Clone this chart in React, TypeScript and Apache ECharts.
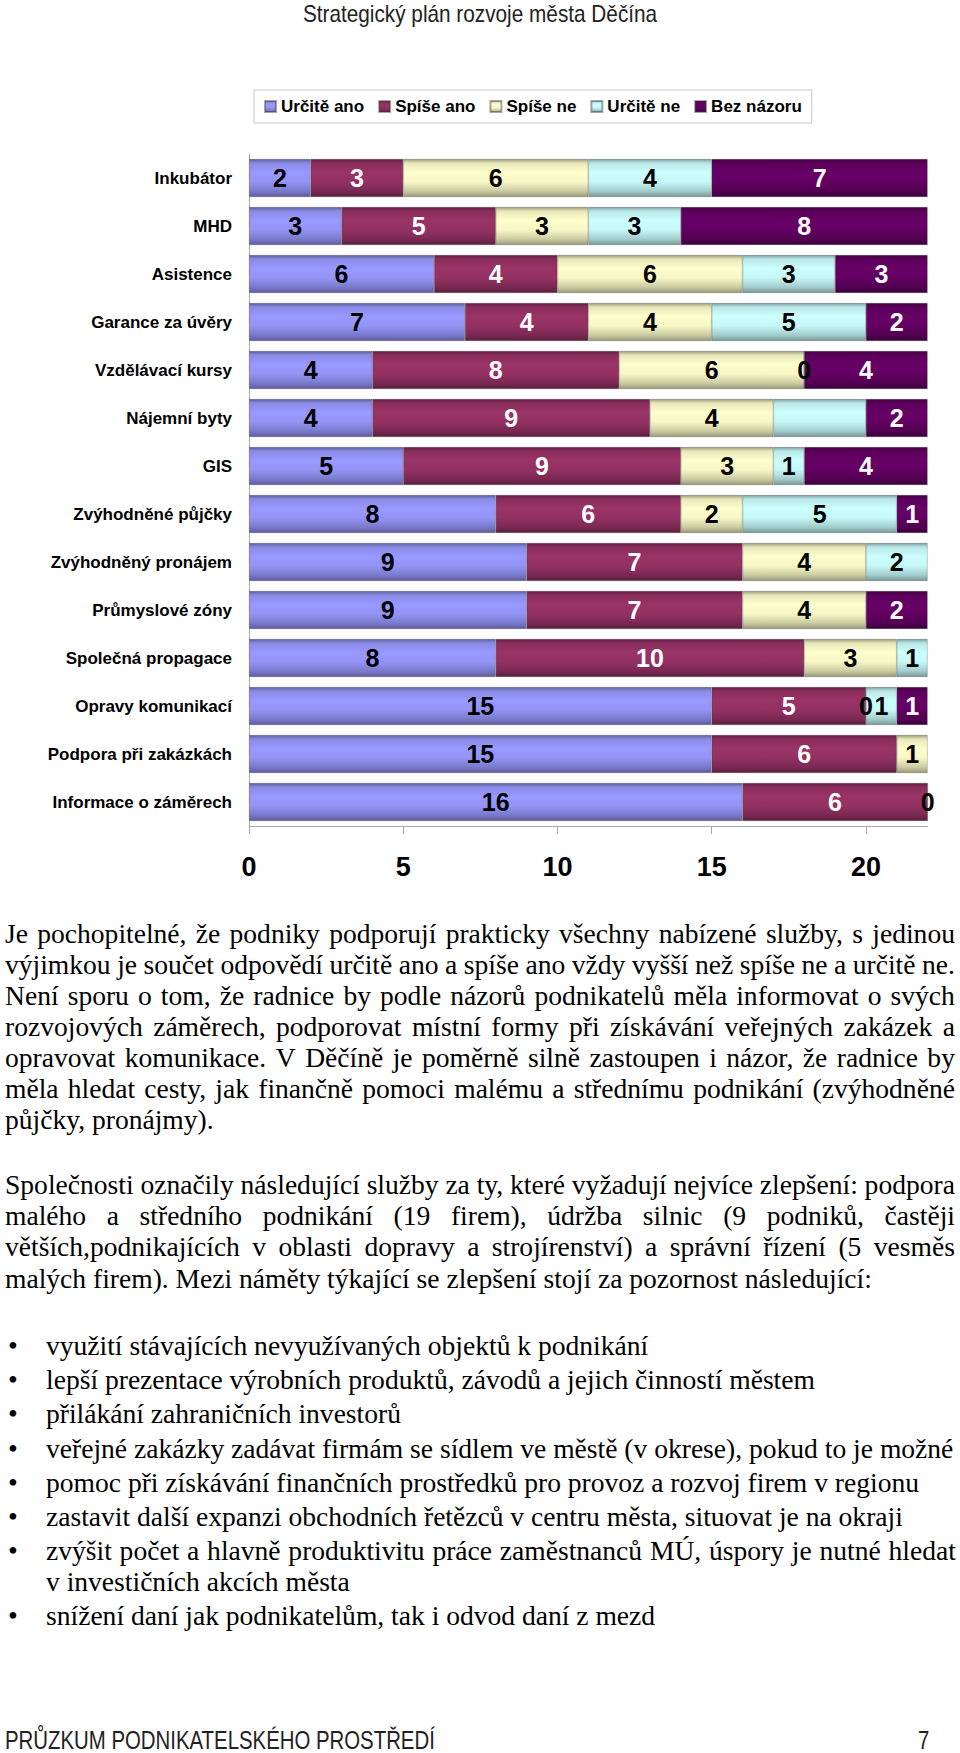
import React, { useEffect, useRef } from "react";
import * as echarts from "echarts";

const categories = [
  "Inkubátor",
  "MHD",
  "Asistence",
  "Garance za úvěry",
  "Vzdělávací kursy",
  "Nájemní byty",
  "GIS",
  "Zvýhodněné půjčky",
  "Zvýhodněný pronájem",
  "Průmyslové zóny",
  "Společná propagace",
  "Opravy komunikací",
  "Podpora při zakázkách",
  "Informace o záměrech",
];
const seriesNames = ["Určitě ano", "Spíše ano", "Spíše ne", "Určitě ne", "Bez názoru"];
const urciteAno = [2, 3, 6, 7, 4, 4, 5, 8, 9, 9, 8, 15, 15, 16];
const spiseAno = [3, 5, 4, 4, 8, 9, 9, 6, 7, 7, 10, 5, 6, 6];
const spiseNe = [6, 3, 6, 4, 6, 4, 3, 2, 4, 4, 3, 0, 1, 0];
const urciteNe = [4, 3, 3, 5, 0, 3, 1, 5, 2, null, 1, 1, null, null];
const bezNazoru = [7, 8, 3, 2, 4, 2, 4, 1, null, 2, null, 1, null, null];
// cells drawn without a number in the original (row, series)
const hiddenLabels = [[5, 3]];
const xTickValues = [0, 5, 10, 15, 20];
const xMax = 22;

const titleText = "Strategický plán rozvoje města Děčína";
const footerLeft = "PRŮZKUM PODNIKATELSKÉHO PROSTŘEDÍ";
const footerRight = "7";

const para1Lines = [
  "Je pochopitelné, že podniky podporují prakticky všechny nabízené služby, s jedinou",
  "výjimkou je součet odpovědí určitě ano a spíše ano vždy vyšší než spíše ne a určitě ne.",
  "Není sporu o tom, že radnice by podle názorů podnikatelů měla informovat o svých",
  "rozvojových záměrech, podporovat místní formy při získávání veřejných zakázek a",
  "opravovat komunikace. V Děčíně je poměrně silně zastoupen i názor, že radnice by",
  "měla hledat cesty, jak finančně pomoci malému a střednímu podnikání (zvýhodněné",
  "půjčky, pronájmy).",
];
const para2Lines = [
  "Společnosti označily následující služby za ty, které vyžadují nejvíce zlepšení: podpora",
  "malého a středního podnikání (19 firem), údržba silnic (9 podniků, častěji",
  "větších,podnikajících v oblasti dopravy a strojírenství) a správní řízení (5 vesměs",
  "malých firem). Mezi náměty týkající se zlepšení stojí za pozornost následující:",
];
const bulletItems = [
  ["využití stávajících nevyužívaných objektů k podnikání"],
  ["lepší prezentace výrobních produktů, závodů a jejich činností městem"],
  ["přilákání zahraničních investorů"],
  ["veřejné zakázky zadávat firmám se sídlem ve městě (v okrese), pokud to je možné"],
  ["pomoc při získávání finančních prostředků pro provoz a rozvoj firem v regionu"],
  ["zastavit další expanzi obchodních řetězců v centru města, situovat je na okraji"],
  ["zvýšit počet a hlavně produktivitu práce zaměstnanců MÚ, úspory je nutné hledat", "v investičních akcích města"],
  ["snížení daní jak podnikatelům, tak i odvod daní z mezd"],
];

const colors = ["#9999FF", "#993366", "#FFFFCC", "#CCFFFF", "#660066"];
const labelColors = ["#000000", "#ffffff", "#000000", "#000000", "#ffffff"];

function shade(hex: string, f: number) {
  const n = parseInt(hex.slice(1), 16);
  const r = Math.round(((n >> 16) & 255) * f);
  const g = Math.round(((n >> 8) & 255) * f);
  const b = Math.round((n & 255) * f);
  const c = (v: number) => Math.max(0, Math.min(255, v)).toString(16).padStart(2, "0");
  return "#" + c(r) + c(g) + c(b);
}

function grad(hex: string) {
  return new echarts.graphic.LinearGradient(0, 0, 0, 1, [
    { offset: 0, color: shade(hex, 0.62) },
    { offset: 0.1, color: shade(hex, 0.9) },
    { offset: 0.35, color: hex },
    { offset: 0.6, color: shade(hex, 0.97) },
    { offset: 0.85, color: shade(hex, 0.8) },
    { offset: 1, color: shade(hex, 0.6) },
  ]);
}

const FONT = "'Liberation Sans', Arial, sans-serif";
const SERIF = "'Liberation Serif', 'Times New Roman', serif";
const TEXT_SCALE = 0.984;
const TEXT_SIZE = 28;

function Line(props: { text: string; left: number; top: number; width: number; justify: boolean }) {
  const { text, left, top, width, justify } = props;
  const inner = width / TEXT_SCALE;
  const base: React.CSSProperties = {
    position: "absolute",
    left,
    top,
    width: inner,
    transform: `scaleX(${TEXT_SCALE})`,
    transformOrigin: "0 0",
    fontFamily: SERIF,
    fontSize: TEXT_SIZE,
    lineHeight: "31px",
    color: "#000",
    whiteSpace: "nowrap",
  };
  if (justify) {
    const words = text.split(" ");
    return (
      <div style={{ ...base, display: "flex", justifyContent: "space-between" }}>
        {words.map((w, i) => (
          <span key={i}>{w}</span>
        ))}
      </div>
    );
  }
  return <div style={base}>{text}</div>;
}

export default function App() {
  const ref = useRef<HTMLDivElement>(null);

  useEffect(() => {
    if (!ref.current) return;
    const chart = echarts.init(ref.current, undefined, { renderer: "svg" });
    const seriesValues = [urciteAno, spiseAno, spiseNe, urciteNe, bezNazoru];
    const isHidden = (ci: number, si: number) => hiddenLabels.some((h) => h[0] === ci && h[1] === si);
    chart.setOption({
      animation: false,
      textStyle: { fontFamily: FONT },
      legend: {
        left: 254,
        top: 90,
        padding: [8, 10],
        itemWidth: 11,
        itemHeight: 11,
        itemGap: 14,
        icon: "rect",
        borderColor: "#c8c8c8",
        borderWidth: 1,
        textStyle: { fontSize: 17, fontWeight: "bold", color: "#000", fontFamily: FONT },
        data: seriesNames,
      },
      grid: { left: 249, top: 154, width: 678.6, height: 672, containLabel: false },
      xAxis: {
        type: "value",
        min: 0,
        max: xMax,
        interval: 5,
        splitLine: { show: false },
        axisLine: { show: true, lineStyle: { color: "#a8a8a8", width: 1 } },
        axisTick: { show: true, length: 8, lineStyle: { color: "#a8a8a8" }, customValues: xTickValues },
        axisLabel: {
          customValues: xTickValues,
          fontSize: 27,
          fontWeight: "bold",
          color: "#000",
          margin: 27,
          fontFamily: FONT,
        },
      },
      yAxis: {
        type: "category",
        inverse: true,
        data: categories,
        axisLine: { show: true, lineStyle: { color: "#a8a8a8", width: 1 } },
        axisTick: { show: false },
        axisLabel: { fontSize: 17, fontWeight: "bold", color: "#000", margin: 17, fontFamily: FONT },
      },
      series: seriesValues.map((vals, si) => ({
        name: seriesNames[si],
        type: "bar",
        stack: "total",
        barWidth: 38,
        itemStyle: { color: grad(colors[si]), borderColor: "rgba(60,60,60,0.45)", borderWidth: 0.6 },
        label: {
          show: true,
          position: "inside",
          color: labelColors[si],
          fontSize: 25,
          fontWeight: "bold",
          fontFamily: FONT,
        },
        data: vals.map((v, ci) => (isHidden(ci, si) ? { value: v, label: { show: false } } : v)),
      })),
    });
    return () => chart.dispose();
  }, []);

  const lines: JSX.Element[] = [];
  const p1Top = 918;
  para1Lines.forEach((t, i) => {
    lines.push(
      <Line key={"p1" + i} text={t} left={5} top={p1Top + i * 31} width={950} justify={i < para1Lines.length - 1} />
    );
  });
  const p2Top = 1169;
  para2Lines.forEach((t, i) => {
    lines.push(
      <Line key={"p2" + i} text={t} left={5} top={p2Top + i * 31.2} width={950} justify={i < para2Lines.length - 1} />
    );
  });
  let bTop = 1330;
  bulletItems.forEach((item, bi) => {
    lines.push(
      <div
        key={"bd" + bi}
        style={{ position: "absolute", left: 8, top: bTop, fontFamily: SERIF, fontSize: 28, lineHeight: "31px" }}
      >
        •
      </div>
    );
    item.forEach((t, li) => {
      lines.push(
        <Line
          key={"b" + bi + "_" + li}
          text={t}
          left={46}
          top={bTop + li * 31}
          width={910}
          justify={li < item.length - 1}
        />
      );
    });
    bTop += 34.2 + (item.length - 1) * 31;
  });

  return (
    <div
      style={{
        position: "absolute",
        left: 0,
        top: 0,
        width: 960,
        height: 1753,
        background: "#fff",
        overflow: "hidden",
      }}
    >
      <div
        style={{
          position: "absolute",
          left: 0,
          top: 0,
          width: 960,
          textAlign: "center",
          fontFamily: FONT,
          fontSize: 24,
          lineHeight: "28px",
          color: "#222",
          transform: "scaleX(0.865)",
          transformOrigin: "480px 0",
          whiteSpace: "nowrap",
        }}
      >
        {titleText}
      </div>
      <div ref={ref} style={{ position: "absolute", left: 0, top: 0, width: 960, height: 900 }} />
      {lines}
      <div
        style={{
          position: "absolute",
          left: 5,
          top: 1728,
          fontFamily: FONT,
          fontSize: 25,
          lineHeight: "25px",
          color: "#222",
          transform: "scaleX(0.815)",
          transformOrigin: "0 0",
          whiteSpace: "nowrap",
        }}
      >
        {footerLeft}
      </div>
      <div
        style={{
          position: "absolute",
          left: 918,
          top: 1728,
          fontFamily: FONT,
          fontSize: 25,
          lineHeight: "25px",
          color: "#222",
          transform: "scaleX(0.815)",
          transformOrigin: "0 0",
        }}
      >
        {footerRight}
      </div>
    </div>
  );
}
